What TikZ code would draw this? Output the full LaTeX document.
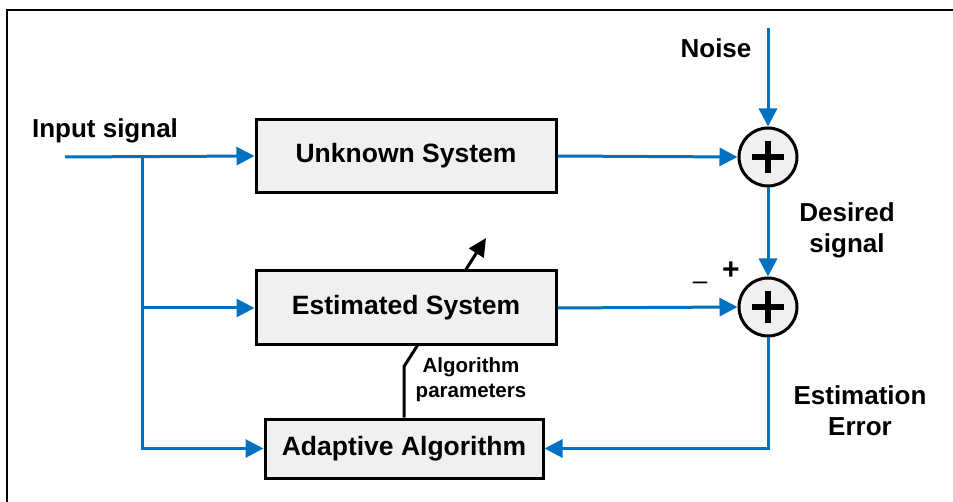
\documentclass[tikz,border=0pt]{standalone}
\usepackage{fontspec}
\setmainfont{Liberation Sans}
\usetikzlibrary{arrows.meta,positioning,calc}
\definecolor{sigblue}{HTML}{0070C0}
\definecolor{boxgray}{HTML}{F0F0F0}
\tikzstyle{block}=[draw,line width=3pt,fill=boxgray,inner sep=0pt,
  font=\fontsize{26.5}{31}\selectfont\bfseries]
\tikzstyle{summer}=[draw,circle,line width=3pt,fill=boxgray,minimum size=58pt,
  inner sep=0pt,path picture={
    \draw[line width=6.5pt] ($(path picture bounding box.center)+(-16pt,0pt)$) -- ++(32pt,0pt);
    \draw[line width=6.5pt] ($(path picture bounding box.center)+(0pt,-16pt)$) -- ++(0pt,32pt);}]
\tikzstyle{sig}=[draw=sigblue,line width=3pt,-{Triangle[length=18pt,width=18pt]}]
\tikzstyle{lbl}=[align=center,font=\fontsize{26}{31}\selectfont\bfseries]

\begin{document}
\begin{tikzpicture}[x=1pt,y=-1pt]
  \useasboundingbox (0,0) rectangle (953,502);
  \draw[line width=2pt] (7,502) -- (7,10) -- (953,10);
  \node[block,minimum width=300pt,minimum height=73pt] (unk) at (406,156) {Unknown System};
  \node[block,minimum width=278pt,minimum height=59pt] (ada) at (404,448.5) {Adaptive Algorithm};
  \node[summer] (sum1) at (768,157) {};
  \node[summer] (sum2) at (768,307) {};
  % adaptation arrow, the estimated box is drawn over it
  \coordinate (tip) at (486,238);
  \draw[line width=3pt,-{Triangle[length=18pt,width=17pt]}] (ada.north) -- ++(0,-51) -- (tip);
  \node[block,minimum width=300pt,minimum height=74pt] (est) at (406,308) {Estimated System};
  \node[lbl] (inlbl) at (105,131) {Input signal};
  \node[lbl] (noise) at (716,48) {Noise};
  \node[lbl] (desired) at (847,230) {Desired\\signal};
  \node[lbl] (err) at (860,411) {Estimation\\Error};
  \node[align=center,font=\fontsize{20.5}{25}\selectfont\bfseries] (param) at (471,380) {Algorithm\\parameters};
  \node[font=\fontsize{30}{30}\selectfont\bfseries] (plus) at (731,271) {+};
  \node[font=\fontsize{26}{26}\selectfont] (minus) at (700,286) {--};
  % signal flow
  \coordinate (in) at (65,157);
  \coordinate (br) at (142,157);
  \coordinate (ns) at (768,28);
  \draw[sig] (in) -- (unk.west);
  \draw[sig] (br) |- (est.west);
  \draw[sig] (br) |- (ada.west);
  \draw[sig] (unk.east) -- (sum1.west);
  \draw[sig] (ns) -- (sum1.north);
  \draw[sig] (sum1.south) -- (sum2.north);
  \draw[sig] (est.east) -- (sum2.west);
  \draw[sig] (sum2.south) |- (ada.east);
\end{tikzpicture}
\end{document}
